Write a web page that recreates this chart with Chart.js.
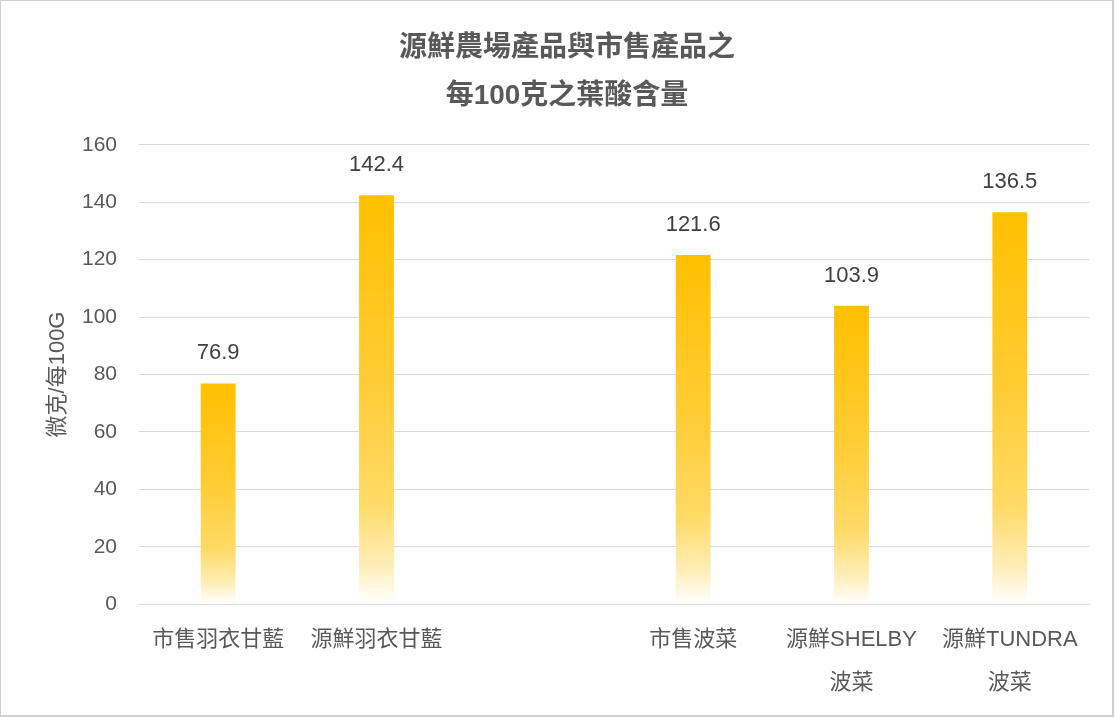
<!DOCTYPE html>
<html>
<head>
<meta charset="utf-8">
<script src="https://cdn.jsdelivr.net/npm/chart.js@4/dist/chart.umd.min.js"></script>
<style>
  html, body { margin: 0; padding: 0; background: #fff; }
  #wrap { width: 1111px; height: 714px; border: 2px solid #d0d0d0; border-top-width: 1px; border-left-width: 1px; background: #fff; }
</style>
</head>
<body>
<div id="wrap"><canvas id="folateChart" width="1111" height="714"></canvas></div>
<script>
const categories = [
  "市售羽衣甘藍",
  "源鮮羽衣甘藍",
  "",
  "市售波菜",
  ["源鮮SHELBY", "波菜"],
  ["源鮮TUNDRA", "波菜"]
];
const folate = [76.9, 142.4, null, 121.6, 103.9, 136.5];
const titleLines = ["源鮮農場產品與市售產品之", "每100克之葉酸含量"];
const yTitle = "微克/每100G";

const fontFamily = "'Liberation Sans', 'Noto Sans CJK TC', sans-serif";

// gradient per bar: solid gold at the top, fading to white at the base
function barGradient(context) {
  const chart = context.chart;
  const area = chart.chartArea;
  if (!area) return "#FFC000";
  const v = context.raw;
  if (v == null) return "#FFC000";
  const yScale = chart.scales.y;
  const top = yScale.getPixelForValue(v);
  const base = yScale.getPixelForValue(0);
  const g = chart.ctx.createLinearGradient(0, top, 0, base);
  g.addColorStop(0, "#FFC000");
  g.addColorStop(0.45, "#FFCC33");
  g.addColorStop(0.75, "#FFDA66");
  g.addColorStop(0.9, "#FFEDB5");
  g.addColorStop(1, "rgba(255,255,255,1)");
  return g;
}

const valueLabels = {
  id: "valueLabels",
  afterDatasetsDraw(chart) {
    const ctx = chart.ctx;
    const meta = chart.getDatasetMeta(0);
    ctx.save();
    ctx.font = "22px " + fontFamily;
    ctx.fillStyle = "#404040";
    ctx.textAlign = "center";
    ctx.textBaseline = "bottom";
    meta.data.forEach((bar, i) => {
      const v = folate[i];
      if (v == null) return;
      ctx.fillText(v.toFixed(1), bar.x, bar.y - 19);
    });
    ctx.restore();
  }
};

const ctx = document.getElementById("folateChart").getContext("2d");

new Chart(ctx, {
  type: "bar",
  data: {
    labels: categories,
    datasets: [
      {
        data: folate,
        backgroundColor: barGradient,
        borderWidth: 0,
        barPercentage: 0.22,
        categoryPercentage: 1
      }
    ]
  },
  options: {
    responsive: false,
    animation: false,
    layout: {
      padding: { left: 44, right: 23, top: 23, bottom: 5 }
    },
    plugins: {
      legend: { display: false },
      tooltip: { enabled: false },
      title: {
        display: true,
        text: titleLines,
        color: "#595959",
        font: { family: fontFamily, size: 28, weight: "bold", lineHeight: 1.71 },
        padding: { top: 0, bottom: 25 }
      }
    },
    scales: {
      y: {
        min: 0,
        max: 160,
        afterFit(scale) {
          scale.width = 94;
        },
        ticks: {
          stepSize: 20,
          color: "#595959",
          font: { family: fontFamily, size: 21 },
          padding: 22
        },
        grid: {
          color: "#d9d9d9",
          drawTicks: false
        },
        border: { display: false },
        title: {
          display: true,
          text: yTitle,
          color: "#595959",
          font: { family: fontFamily, size: 22 },
          padding: { top: 0, bottom: 10 }
        }
      },
      x: {
        ticks: {
          color: "#595959",
          font: { family: fontFamily, size: 22, lineHeight: 1.95 },
          padding: 6,
          maxRotation: 0,
          autoSkip: false
        },
        grid: { display: false },
        border: { color: "#d9d9d9" }
      }
    }
  },
  plugins: [valueLabels]
});
</script>
</body>
</html>
